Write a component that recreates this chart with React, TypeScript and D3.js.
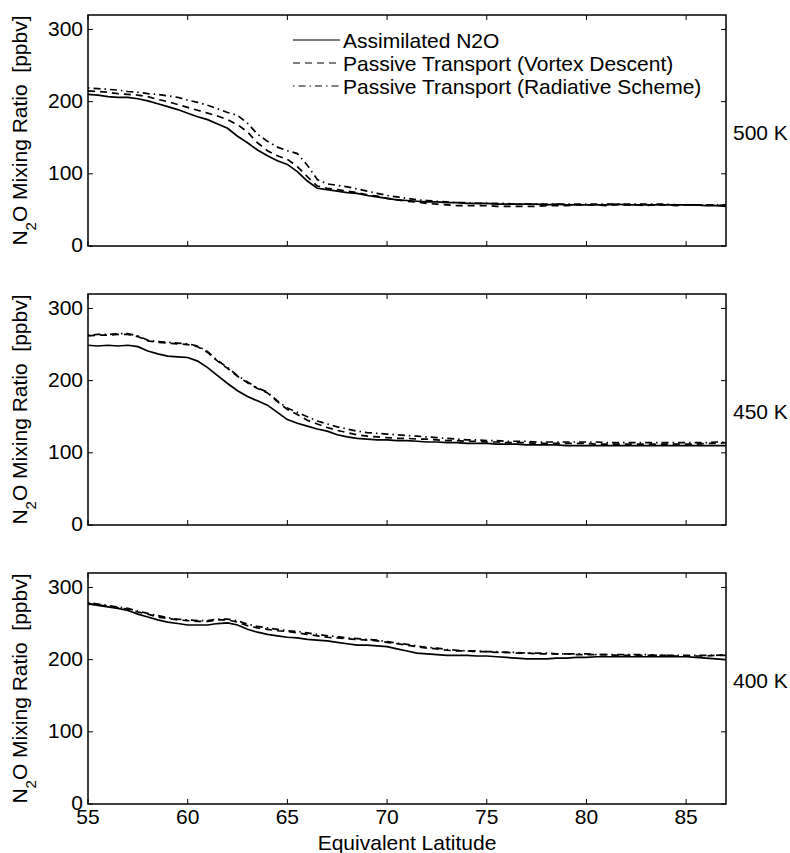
import * as d3 from 'd3';

// equivalent latitude grid (0.5 deg)
const lat = d3.range(55, 87.01, 0.5);

const seriesNames = [
  'Assimilated N2O',
  'Passive Transport (Vortex Descent)',
  'Passive Transport (Radiative Scheme)',
];

const levels = ['500 K', '450 K', '400 K'];
const yTicks = [0, 100, 200, 300];
const xTicks = [55, 60, 65, 70, 75, 80, 85];

// 500 K
const assim500 = [210, 209, 207, 206, 206, 204, 201, 197, 193, 189, 184, 179, 175, 169, 163, 152, 143, 133, 125, 118, 113, 103, 90, 80, 78, 76, 74, 73, 70, 68, 66, 64, 63, 62, 61, 61, 60, 60, 59, 59, 59, 58, 58, 58, 58, 58, 57, 58, 57, 57, 57, 57, 57, 58, 57, 57, 57, 57, 57, 57, 57, 57, 56, 56, 55];
const vortex500 = [215, 214, 213, 211, 210, 209, 207, 203, 200, 196, 192, 188, 184, 180, 175, 168, 158, 143, 132, 125, 120, 110, 96, 83, 80, 78, 76, 74, 71, 69, 66, 64, 62, 61, 59, 58, 57, 56, 56, 56, 56, 55, 55, 55, 55, 55, 56, 56, 56, 57, 57, 57, 56, 57, 57, 57, 56, 57, 57, 56, 57, 57, 56, 57, 56];
const radiative500 = [219, 218, 217, 216, 214, 213, 211, 210, 208, 206, 202, 199, 195, 190, 185, 181, 170, 155, 145, 137, 132, 128, 112, 92, 86, 84, 82, 79, 76, 73, 70, 68, 66, 64, 63, 62, 61, 60, 60, 59, 59, 59, 59, 58, 58, 58, 58, 58, 58, 58, 58, 58, 58, 58, 58, 58, 58, 58, 58, 57, 57, 57, 57, 57, 57];

// 450 K
const assim450 = [249, 248, 249, 248, 249, 247, 241, 237, 234, 233, 232, 227, 218, 207, 196, 186, 178, 172, 166, 156, 146, 141, 137, 133, 130, 125, 122, 120, 119, 118, 118, 117, 117, 116, 115, 115, 114, 114, 113, 113, 113, 112, 112, 112, 111, 111, 111, 111, 110, 110, 110, 110, 110, 110, 110, 110, 110, 110, 110, 110, 110, 110, 110, 110, 110];
const vortex450 = [262, 263, 263, 264, 264, 261, 255, 253, 252, 251, 250, 247, 239, 227, 217, 206, 197, 189, 183, 171, 160, 153, 145, 140, 135, 131, 128, 125, 123, 122, 121, 120, 120, 119, 119, 118, 117, 117, 116, 116, 115, 115, 114, 114, 114, 113, 113, 113, 113, 113, 113, 112, 112, 112, 112, 112, 112, 112, 112, 112, 112, 112, 113, 113, 114];
const radiative450 = [263, 264, 264, 265, 265, 262, 256, 254, 253, 252, 251, 248, 240, 228, 218, 207, 198, 190, 184, 172, 162, 156, 150, 144, 140, 136, 133, 130, 128, 127, 126, 125, 124, 123, 122, 121, 120, 119, 118, 118, 117, 117, 116, 116, 116, 115, 115, 115, 115, 115, 115, 115, 114, 114, 114, 114, 114, 114, 114, 114, 114, 114, 114, 115, 115];

// 400 K
const assim400 = [278, 275, 273, 271, 268, 263, 259, 255, 252, 250, 248, 248, 248, 250, 251, 248, 242, 238, 235, 233, 231, 230, 228, 227, 226, 224, 222, 220, 220, 219, 218, 215, 212, 209, 208, 207, 206, 206, 206, 205, 205, 204, 203, 202, 201, 201, 201, 202, 202, 203, 203, 204, 204, 204, 204, 204, 204, 204, 204, 204, 204, 203, 202, 201, 200];
const vortex400 = [277, 276, 274, 272, 270, 266, 263, 259, 257, 255, 254, 253, 253, 255, 255, 252, 247, 244, 242, 240, 239, 237, 235, 233, 231, 230, 229, 228, 227, 226, 224, 222, 220, 218, 216, 215, 213, 212, 212, 211, 211, 210, 210, 209, 209, 208, 208, 208, 208, 207, 207, 207, 207, 206, 206, 206, 206, 206, 206, 205, 205, 205, 205, 206, 206];
const radiative400 = [279, 277, 275, 273, 271, 267, 264, 261, 258, 256, 255, 254, 254, 256, 256, 254, 249, 246, 244, 242, 240, 239, 237, 235, 233, 232, 230, 229, 228, 227, 225, 223, 221, 219, 217, 216, 214, 213, 212, 212, 211, 211, 210, 210, 209, 209, 209, 208, 208, 208, 208, 207, 207, 207, 207, 207, 207, 206, 206, 206, 206, 206, 206, 206, 207];

const panelData = [
  [assim500, vortex500, radiative500],
  [assim450, vortex450, radiative450],
  [assim400, vortex400, radiative400],
];
const levelLabelValue = [158, 158, 171];

const W = 790, H = 853;
const left = 88, right = 726;
const tops = [15, 294, 573];
const ph = 231;
const font = '"Liberation Sans", Arial, Helvetica, sans-serif';
const fs = 21;
const dashes = [null, '7,5', '1.5,4,7,4'];

export default function App() {
  const x = d3.scaleLinear().domain([55, 87]).range([left, right]);
  const tick = 5;

  return (
    <svg width={W} height={H} style={{ position: 'absolute', left: 0, top: 0, background: '#fff' }}
      fontFamily={font}>
      {panelData.map((series, pi) => {
        const top = tops[pi];
        const y = d3.scaleLinear().domain([0, 320]).range([top + ph, top]);
        const line = d3.line<number>().x((_, i) => x(lat[i])).y(d => y(d));
        const midY = top + ph / 2;
        return (
          <g key={pi}>
            {series.map((s, si) => (
              <path key={si} d={line(s) || ''} fill="none" stroke="#000" strokeWidth={1.7}
                strokeDasharray={dashes[si] || undefined} />
            ))}
            {yTicks.map(t => (
              <g key={'y' + t}>
                <line x1={left} x2={left + tick} y1={y(t)} y2={y(t)} stroke="#000" />
                <line x1={right} x2={right - tick} y1={y(t)} y2={y(t)} stroke="#000" />
                <text x={left - 5} y={y(t) - (t === 0 ? 2 : 1)} dy="0.36em" textAnchor="end" fontSize={fs}>{t}</text>
              </g>
            ))}
            {xTicks.map(t => (
              <g key={'x' + t}>
                <line x1={x(t)} x2={x(t)} y1={top + ph} y2={top + ph - tick} stroke="#000" />
                <line x1={x(t)} x2={x(t)} y1={top} y2={top + tick} stroke="#000" />
              </g>
            ))}
            <rect x={left} y={top} width={right - left} height={ph} fill="none" stroke="#000" strokeWidth={1.5} />
            <text x={733} y={y(levelLabelValue[pi])} dy="0.36em" fontSize={fs}>{levels[pi]}</text>
            <text transform={`translate(27,${midY}) rotate(-90)`} textAnchor="middle" fontSize={fs}>
              N<tspan baselineShift="sub" fontSize={15}>2</tspan>O Mixing Ratio{'\u00a0 '}[ppbv]
            </text>
          </g>
        );
      })}
      {seriesNames.map((n, i) => (
        <g key={n} transform={`translate(0,${40 + i * 23})`}>
          <line x1={293} x2={340} y1={0} y2={0} stroke="#000" strokeWidth={1.2}
            strokeDasharray={dashes[i] || undefined} />
          <text x={343} y={0} dy="0.36em" fontSize={fs}>{n}</text>
        </g>
      ))}
      {xTicks.map(t => (
        <text key={t} x={x(t)} y={tops[2] + ph + 20} textAnchor="middle" fontSize={fs}>{t}</text>
      ))}
      <text x={(left + right) / 2} y={850} textAnchor="middle" fontSize={fs}>Equivalent Latitude</text>
    </svg>
  );
}
